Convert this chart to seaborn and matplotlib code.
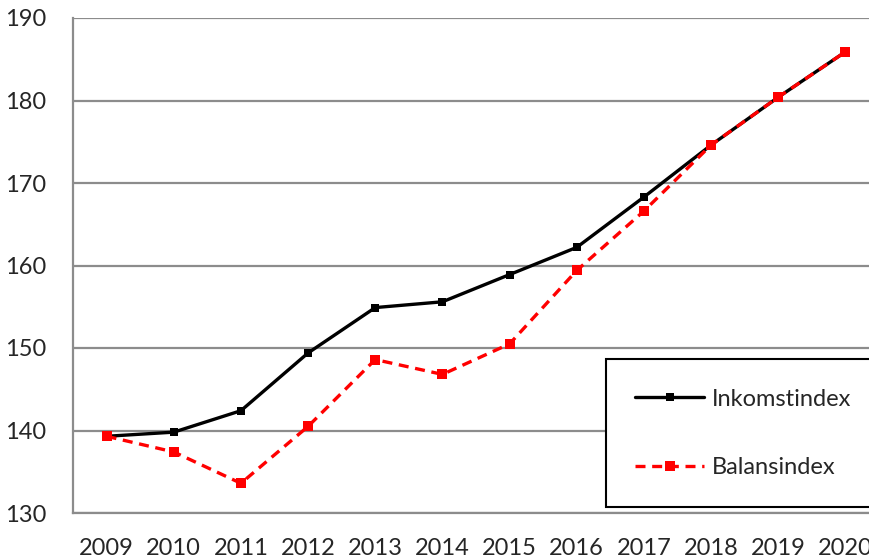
import matplotlib
matplotlib.use("Agg")
import matplotlib.pyplot as plt
import numpy as np
import pandas as pd
import seaborn as sns

# Värden
years = ["2009", "2010", "2011", "2012", "2013", "2014",
         "2015", "2016", "2017", "2018", "2019", "2020"]
inkomstindex = [139.3, 139.8, 142.4, 149.4, 154.9, 155.6,
                158.9, 162.2, 168.3, 174.6, 180.4, 185.9]
balansindex = [139.3, 137.4, 133.6, 140.5, 148.6, 146.8,
               150.5, 159.4, 166.6, 174.6, 180.4, 185.9]

sns.set_style("white")
plt.rcParams['font.family'] = ['Lato', 'DejaVu Sans']

fig = plt.figure(figsize=(8.69, 5.58), dpi=100)
# plot area runs a little past the right edge, like the cropped original
ax = fig.add_axes([73 / 869, 45 / 558, 806 / 869, 495 / 558])

grid_col = '#8c8c8c'
ax.set_axisbelow(True)
ax.grid(axis='y', color=grid_col, linewidth=1.6)

sns.lineplot(x=years, y=inkomstindex, ax=ax, color='black', linewidth=2.4,
             marker='s', markersize=5.5, markeredgewidth=0, label='Inkomstindex')
sns.lineplot(x=years, y=balansindex, ax=ax, color='#ff0000', linewidth=2.4,
             linestyle=(0, (3, 2)), marker='s', markersize=6.5, markeredgewidth=0,
             label='Balansindex')

ax.set_xlim(-0.5, 11.5)
ax.set_ylim(130, 190)
ax.set_yticks(np.arange(130, 191, 10))
ax.set_xticks(range(len(years)))
ax.set_xticklabels(years)
ax.set_xticks(np.arange(-0.5, 11.6, 1), minor=True)
ax.tick_params(axis='x', which='major', length=0, pad=18, labelsize=17)
ax.tick_params(axis='x', which='minor', length=7, width=1.6, color=grid_col,
               direction='out')
ax.tick_params(axis='y', length=8, width=1.6, color=grid_col, direction='out',
               pad=11, labelsize=17)
ax.set_xlabel('')
ax.set_ylabel('')

for side in ['top', 'right']:
    ax.spines[side].set_visible(False)
for side in ['left', 'bottom']:
    ax.spines[side].set_color(grid_col)
    ax.spines[side].set_linewidth(1.6)

leg = ax.legend(loc='upper left', bbox_to_anchor=(0.661, 0.311), frameon=True,
                fancybox=False, fontsize=17, handlelength=2.9, labelspacing=2.0,
                borderpad=1.25, handletextpad=0.35, borderaxespad=0)
leg.get_frame().set_edgecolor('black')
leg.get_frame().set_linewidth(1.5)
leg.get_frame().set_alpha(1)

fig.savefig('out.png', dpi=100)
